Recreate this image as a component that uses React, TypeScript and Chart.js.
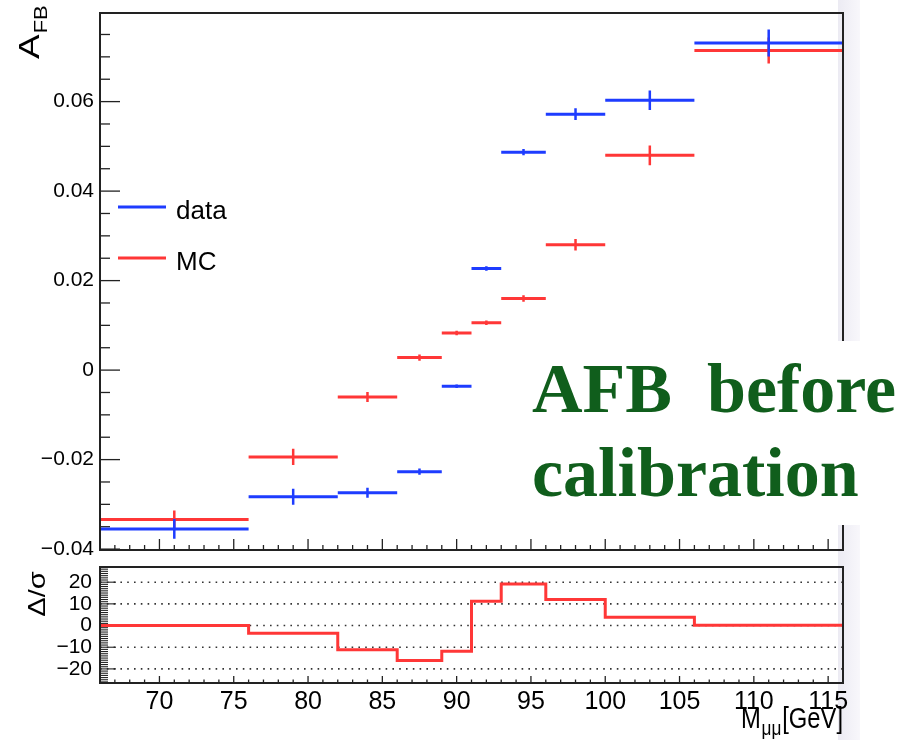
import React, { useEffect, useRef } from "react";
import { Chart, registerables } from "chart.js";

Chart.register(...registerables);

// ---------------- data ----------------
const binEdges = [66, 76, 82, 86, 89, 91, 93, 96, 100, 106, 116];
const dataValues = [-0.0355, -0.0283, -0.0274, -0.0227, -0.0036, 0.0227, 0.0487, 0.0572, 0.0603, 0.0731];
const dataErrors = [0.0022, 0.0018, 0.0011, 0.0007, 0.0004, 0.0005, 0.0007, 0.0013, 0.0022, 0.003];
const mcValues = [-0.0334, -0.0194, -0.006, 0.0028, 0.0083, 0.0106, 0.016, 0.028, 0.048, 0.0714];
const mcErrors = [0.002, 0.0018, 0.0011, 0.0007, 0.0005, 0.0005, 0.0007, 0.0013, 0.0022, 0.0029];
const pullValues = [0, -3.5, -11.2, -16.1, -11.8, 11.2, 19.2, 12.0, 3.8, 0.1];
const topYTicks = [-0.04, -0.02, 0, 0.02, 0.04, 0.06];
const bottomYTicks = [-20, -10, 0, 10, 20];
const xTicks = [70, 75, 80, 85, 90, 95, 100, 105, 110, 115];
const seriesNames = ["data", "MC"];

// ---------------- styles ----------------
const BLUE = "rgb(30,60,255)";
const RED = "rgb(255,55,55)";
const NARROW = "'Liberation Sans Narrow', 'Liberation Sans', Arial, sans-serif";
const SANS = "'Liberation Sans', Arial, Helvetica, sans-serif";

type Pt = { x: number; y: number | null };

function hBars(vals: number[]): Pt[] {
  const out: Pt[] = [];
  vals.forEach((v, i) => {
    out.push({ x: binEdges[i], y: v }, { x: binEdges[i + 1], y: v }, { x: binEdges[i + 1], y: null });
  });
  return out;
}
function vBars(vals: number[], errs: number[]): Pt[] {
  const out: Pt[] = [];
  vals.forEach((v, i) => {
    const c = (binEdges[i] + binEdges[i + 1]) / 2;
    out.push({ x: c, y: v - errs[i] }, { x: c, y: v + errs[i] }, { x: c, y: null });
  });
  return out;
}
function stepPts(vals: number[]): Pt[] {
  const out: Pt[] = vals.map((v, i) => ({ x: binEdges[i], y: v }));
  out.push({ x: binEdges[binEdges.length - 1], y: vals[vals.length - 1] });
  return out;
}

function seg(ctx: CanvasRenderingContext2D, x1: number, y1: number, x2: number, y2: number) {
  ctx.beginPath();
  ctx.moveTo(x1, y1);
  ctx.lineTo(x2, y2);
  ctx.stroke();
}

const lineDs = (label: string, data: Pt[], color: string, w: number) => ({
  label,
  data,
  showLine: true,
  borderColor: color,
  backgroundColor: color,
  borderWidth: w,
  pointRadius: 0,
  spanGaps: false,
  borderCapStyle: "butt" as const,
});

const noPad = (s: any) => {
  s.paddingTop = 0;
  s.paddingBottom = 0;
  s.paddingLeft = 0;
  s.paddingRight = 0;
};

const topPlugin = {
  id: "topDeco",
  beforeDatasetsDraw(chart: any) {
    const { ctx, chartArea: a, scales } = chart;
    const x = scales.x;
    const y = scales.y;
    ctx.save();
    ctx.strokeStyle = "#222";
    ctx.lineWidth = 1.3;
    for (let v = 67; v < 116; v++) {
      const px = x.getPixelForValue(v);
      seg(ctx, px, a.bottom, px, a.bottom - (v % 5 === 0 ? 11 : 5));
    }
    for (let k = -8; k <= 15; k++) {
      const py = y.getPixelForValue(k * 0.005);
      if (py < a.top + 1) continue;
      seg(ctx, a.left, py, a.left + (k % 4 === 0 ? 20 : 10), py);
    }
    ctx.restore();
  },
  afterDraw(chart: any) {
    const { ctx, chartArea: a } = chart;
    ctx.save();
    ctx.strokeStyle = "#222";
    ctx.lineWidth = 2;
    ctx.strokeRect(a.left, a.top, a.right - a.left, a.bottom - a.top);

    // legend
    const colors = [BLUE, RED];
    const ys = [207, 258];
    ctx.font = `26px ${SANS}`;
    ctx.fillStyle = "#000";
    ctx.textBaseline = "alphabetic";
    seriesNames.forEach((n, i) => {
      ctx.strokeStyle = colors[i];
      ctx.lineWidth = 3;
      seg(ctx, 118, ys[i], 166, ys[i]);
      ctx.fillText(n, 176, ys[i] + 12);
    });

    // y title A_FB
    ctx.save();
    ctx.translate(39, 59);
    ctx.scale(0.8, 1);
    ctx.rotate(-Math.PI / 2);
    ctx.fillStyle = "#000";
    ctx.font = `37px ${SANS}`;
    ctx.textAlign = "left";
    ctx.fillText("A", 0, 0);
    const w = ctx.measureText("A").width;
    ctx.font = `22px ${SANS}`;
    ctx.fillText("FB", w + 1, 10);
    ctx.restore();
    ctx.restore();
  },
};

const bottomPlugin = {
  id: "botDeco",
  beforeDatasetsDraw(chart: any) {
    const { ctx, chartArea: a, scales } = chart;
    const x = scales.x;
    const y = scales.y;
    ctx.save();
    ctx.strokeStyle = "#333";
    ctx.lineWidth = 1.6;
    ctx.setLineDash([1.6, 5.2]);
    bottomYTicks.forEach((v) => {
      const py = y.getPixelForValue(v);
      seg(ctx, a.left, py, a.right, py);
    });
    ctx.setLineDash([]);
    ctx.strokeStyle = "#222";
    ctx.lineWidth = 1.1;
    for (let v = -26; v <= 26; v++) {
      const py = y.getPixelForValue(v);
      seg(ctx, a.left, py, a.left + (v % 10 === 0 ? 16 : 8), py);
    }
    ctx.lineWidth = 1.3;
    for (let v = 67; v < 116; v++) {
      const px = x.getPixelForValue(v);
      seg(ctx, px, a.bottom, px, a.bottom - (v % 5 === 0 ? 7 : 3.5));
    }
    ctx.restore();
  },
  afterDraw(chart: any) {
    const { ctx, chartArea: a } = chart;
    ctx.save();
    ctx.strokeStyle = "#222";
    ctx.lineWidth = 2;
    ctx.strokeRect(a.left, a.top, a.right - a.left, a.bottom - a.top);

    // y title Δ/σ
    ctx.save();
    ctx.translate(45, 34);
    ctx.scale(0.8, 1);
    ctx.rotate(-Math.PI / 2);
    ctx.fillStyle = "#000";
    ctx.font = `29px ${SANS}`;
    ctx.textAlign = "center";
    ctx.fillText("\u0394/\u03c3", 0, 0);
    ctx.restore();

    // x title M_μμ[GeV]
    ctx.save();
    ctx.fillStyle = "#000";
    ctx.translate(843, 168);
    ctx.scale(0.82, 1);
    ctx.textAlign = "left";
    const big = `29px ${SANS}`;
    const small = `21px ${SANS}`;
    ctx.font = big;
    const wM = ctx.measureText("M").width;
    const wG = ctx.measureText("[GeV]").width;
    ctx.font = small;
    const wS = ctx.measureText("\u03bc\u03bc").width + 2;
    let cx = -(wM + wS + wG);
    ctx.font = big;
    ctx.fillText("M", cx, 0);
    cx += wM + 1;
    ctx.font = small;
    ctx.fillText("\u03bc\u03bc", cx, 7);
    cx += wS - 1;
    ctx.font = big;
    ctx.fillText("[GeV]", cx, 0);
    ctx.restore();
    ctx.restore();
  },
};

const fmtTop = (v: number) => (v === 0 ? "0" : (v < 0 ? "\u2212" : "") + Math.abs(v).toFixed(2));
const fmtBot = (v: number) => (v < 0 ? "\u2212" : "") + Math.abs(v);

export default function App() {
  const topRef = useRef<HTMLCanvasElement>(null);
  const botRef = useRef<HTMLCanvasElement>(null);

  useEffect(() => {
    const top = new Chart(topRef.current as HTMLCanvasElement, {
      type: "scatter",
      data: {
        datasets: [
          lineDs(seriesNames[0], hBars(dataValues), BLUE, 3),
          lineDs(seriesNames[0] + " err", vBars(dataValues, dataErrors), BLUE, 2.5),
          lineDs(seriesNames[1], hBars(mcValues), RED, 3),
          lineDs(seriesNames[1] + " err", vBars(mcValues, mcErrors), RED, 2.5),
        ] as any,
      },
      options: {
        animation: false,
        responsive: false,
        devicePixelRatio: 1,
        layout: { padding: { left: 0, top: 13, right: 65, bottom: 10 } },
        plugins: { legend: { display: false }, tooltip: { enabled: false } },
        scales: {
          x: {
            type: "linear",
            min: 66,
            max: 116,
            grid: { display: false, drawTicks: false },
            border: { display: false },
            ticks: { display: false },
            afterFit: (s: any) => {
              s.height = 0;
              noPad(s);
            },
          },
          y: {
            type: "linear",
            min: -0.0402,
            max: 0.0798,
            grid: { display: false, drawTicks: false },
            border: { display: false },
            ticks: {
              padding: 6,
              autoSkip: false,
              color: "#000",
              font: { family: NARROW, size: 21 },
              callback: (v: any) => fmtTop(Number(v)),
            },
            afterBuildTicks: (s: any) => {
              s.ticks = topYTicks.map((v) => ({ value: v }));
            },
            afterFit: (s: any) => {
              s.width = 100;
              noPad(s);
            },
          },
        },
      } as any,
      plugins: [topPlugin],
    });

    const bot = new Chart(botRef.current as HTMLCanvasElement, {
      type: "scatter",
      data: {
        datasets: [{ ...lineDs("\u0394/\u03c3", stepPts(pullValues), RED, 3), stepped: "before" }] as any,
      },
      options: {
        animation: false,
        responsive: false,
        devicePixelRatio: 1,
        layout: { padding: { left: 0, top: 7, right: 65, bottom: 0 } },
        plugins: { legend: { display: false }, tooltip: { enabled: false } },
        scales: {
          x: {
            type: "linear",
            min: 66,
            max: 116,
            grid: { display: false, drawTicks: false },
            border: { display: false },
            ticks: {
              padding: 4,
              autoSkip: false,
              maxRotation: 0,
              color: "#000",
              font: { family: NARROW, size: 25 },
              callback: (v: any) => String(v),
            },
            afterBuildTicks: (s: any) => {
              s.ticks = xTicks.map((v) => ({ value: v }));
            },
            afterFit: (s: any) => {
              s.height = 57;
              noPad(s);
            },
          },
          y: {
            type: "linear",
            min: -26.5,
            max: 27,
            grid: { display: false, drawTicks: false },
            border: { display: false },
            ticks: {
              padding: 8,
              autoSkip: false,
              color: "#000",
              font: { family: NARROW, size: 21 },
              callback: (v: any) => fmtBot(Number(v)),
            },
            afterBuildTicks: (s: any) => {
              s.ticks = bottomYTicks.map((v) => ({ value: v }));
            },
            afterFit: (s: any) => {
              s.width = 100;
              noPad(s);
            },
          },
        },
      } as any,
      plugins: [bottomPlugin],
    });

    return () => {
      top.destroy();
      bot.destroy();
    };
  }, []);

  return (
    <div
      style={{
        position: "absolute",
        left: 0,
        top: 0,
        width: 908,
        height: 740,
        background: "#fff",
        overflow: "hidden",
      }}
    >
      <div
        style={{
          position: "absolute",
          left: 838,
          top: 0,
          width: 22,
          height: 740,
          background: "linear-gradient(to right, #ecebf3, #f8f7fb)",
        }}
      />
      <canvas
        ref={topRef}
        width={908}
        height={560}
        style={{ position: "absolute", left: 0, top: 0, width: 908, height: 560 }}
      />
      <canvas
        ref={botRef}
        width={908}
        height={180}
        style={{ position: "absolute", left: 0, top: 560, width: 908, height: 180 }}
      />
      <div
        style={{
          position: "absolute",
          left: 526,
          top: 341,
          width: 382,
          height: 184,
          background: "#fff",
        }}
      >
        <div
          style={{
            fontFamily: "'Liberation Serif', 'Times New Roman', serif",
            fontWeight: "bold",
            fontSize: 70,
            lineHeight: "84px",
            color: "#105e1c",
            paddingLeft: 6,
            paddingTop: 6,
            whiteSpace: "nowrap",
          }}
        >
          AFB&nbsp;&nbsp;before
          <br />
          calibration
        </div>
      </div>
    </div>
  );
}
